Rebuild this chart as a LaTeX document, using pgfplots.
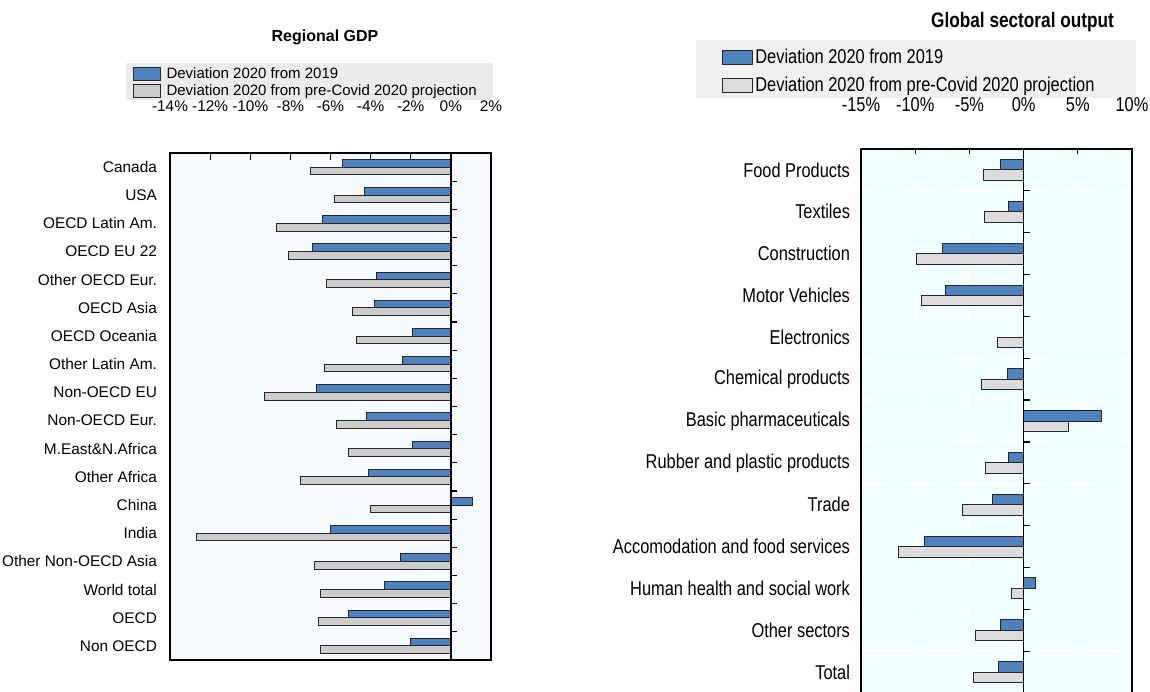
\documentclass[border=0pt]{standalone}
\usepackage{fontspec}
\setmainfont{Liberation Sans}
\newfontfamily\narrowfont{Liberation Sans}[FakeStretch=0.82]
\usepackage{pgfplots}
\usepackage{pgfplotstable}
\pgfplotsset{compat=1.18}
\definecolor{barblue}{HTML}{4F81BD}
\definecolor{lgray}{HTML}{CCCCCC}
\definecolor{rgray}{HTML}{DCDCDC}
\definecolor{leftbg}{HTML}{F5FBFE}
\definecolor{rightbg}{HTML}{F0FFFF}
\definecolor{leggrayL}{HTML}{EBEBEB}
\definecolor{leggrayR}{HTML}{F0F0F0}

\pgfplotstableread{
y a b
0 -5.4 -7.0
1 -4.3 -5.8
2 -6.4 -8.7
3 -6.9 -8.1
4 -3.7 -6.2
5 -3.8 -4.9
6 -1.9 -4.7
7 -2.4 -6.3
8 -6.7 -9.3
9 -4.2 -5.7
10 -1.9 -5.1
11 -4.1 -7.5
12 1.1 -4.0
13 -6.0 -12.7
14 -2.5 -6.8
15 -3.3 -6.5
16 -5.1 -6.6
17 -2.0 -6.5
}\regtable

\pgfplotstableread{
y a b
0 -2.1 -3.7
1 -1.4 -3.6
2 -7.5 -9.9
3 -7.2 -9.4
4 0.0 -2.4
5 -1.5 -3.9
6 7.2 4.1
7 -1.4 -3.5
8 -2.9 -5.6
9 -9.1 -11.5
10 1.1 -1.1
11 -2.1 -4.4
12 -2.3 -4.6
}\sectable

\pgfplotsset{
  legsqL/.style={legend image code/.code={\draw[##1] (0pt,-3.25pt) rectangle (13.5pt,3.25pt);}},
  legsqR/.style={legend image code/.code={\draw[##1] (0pt,-3.5pt) rectangle (15pt,3.5pt);}},
}

\begin{document}
\begin{tikzpicture}
\path[use as bounding box] (0,0) rectangle (575pt,345.5pt);
\fill[leggrayL] (63pt,295.5pt) rectangle (246.5pt,314pt);
\fill[leggrayR] (348pt,296.5pt) rectangle (568pt,325.5pt);
\node[font=\fontsize{8}{9.6}\selectfont\bfseries] at (162.5pt,327pt) {Regional GDP};
\node[font=\narrowfont\fontsize{10.5}{12}\selectfont\bfseries] at (511.25pt,334.5pt) {Global sectoral output};

\begin{axis}[
  at={(85pt,15.5pt)}, anchor=south west, scale only axis,
  width=160.5pt, height=253.5pt,
  xmin=-14, xmax=2, ymin=-0.5, ymax=17.5, y dir=reverse,
  xbar, bar width=0.27,
  axis background/.style={fill=leftbg},
  axis line style={black, line width=0.8pt},
  xtick={-14,-12,...,2},
  xticklabels={-14\%,-12\%,-10\%,-8\%,-6\%,-4\%,-2\%,0\%,2\%},
  xtick pos=upper, xticklabel pos=upper, tick align=inside,
  major tick length=3.5pt,
  xtick style={black, line width=0.6pt},
  ytick={0,...,17},
  yticklabels={Canada,USA,OECD Latin Am.,OECD EU 22,Other OECD Eur.,OECD Asia,OECD Oceania,Other Latin Am.,Non-OECD EU,Non-OECD Eur.,M.East\&N.Africa,Other Africa,China,India,Other Non-OECD Asia,World total,OECD,Non OECD},
  ytick style={draw=none},
  tick label style={font=\fontsize{7.7}{9}\selectfont},
  xticklabel style={yshift=17pt},
  yticklabel style={xshift=-3pt},
  legend style={at={(axis description cs:-0.118,1.170)}, anchor=north west,
    draw=none, fill=none, inner sep=0pt, row sep=1.5pt,
    font=\fontsize{7.5}{8}\selectfont,
    nodes={inner ysep=0pt, inner xsep=3pt, text height=5.5pt, text depth=1.5pt}},
  legend cell align=left,
]
\addplot[fill=barblue, draw=black!85, line width=0.5pt, bar shift=-0.135, legsqL] table[x=a,y=y]{\regtable};
\addplot[fill=lgray, draw=black!85, line width=0.5pt, bar shift=0.135, legsqL] table[x=b,y=y]{\regtable};
\legend{Deviation 2020 from 2019, Deviation 2020 from pre-Covid 2020 projection}
\draw[black, line width=0.8pt] (axis cs:0,-0.5) -- (axis cs:0,17.5);
\pgfplotsinvokeforeach{0.5,1.5,...,16.5}{\draw[black,line width=0.6pt] (axis cs:0,#1) -- ([xshift=3pt]axis cs:0,#1);}
\end{axis}

\begin{axis}[
  at={(430.5pt,-1pt)}, anchor=south west, scale only axis,
  width=135.5pt, height=272pt,
  xmin=-15, xmax=10, ymin=-0.5, ymax=12.5, y dir=reverse,
  xbar, bar width=0.25,
  axis background/.style={fill=rightbg},
  axis line style={black, line width=0.9pt},
  xtick={-15,-10,...,10},
  xticklabels={-15\%,-10\%,-5\%,0\%,5\%,10\%},
  xtick pos=upper, xticklabel pos=upper, tick align=inside,
  major tick length=2.5pt,
  xtick style={black, line width=0.6pt},
  xmajorgrids, major grid style={white, line width=1pt},
  ytick={0,...,12},
  yticklabels={Food Products,Textiles,Construction,Motor Vehicles,Electronics,Chemical products,Basic pharmaceuticals,Rubber and plastic products,Trade,Accomodation and food services,Human health and social work,Other sectors,Total},
  ytick style={draw=none},
  minor ytick={0.5,1.5,...,11.5}, yminorgrids, minor grid style={white, line width=0.8pt},
  minor tick length=0pt,
  tick label style={font=\narrowfont\fontsize{10}{12}\selectfont},
  xticklabel style={yshift=15pt},
  yticklabel style={xshift=-2pt},
  legend style={at={(axis description cs:-0.513,1.1857)}, anchor=north west,
    draw=none, fill=none, inner sep=0pt, row sep=4.5pt,
    font=\narrowfont\fontsize{10}{12}\selectfont,
    nodes={inner ysep=0pt, inner xsep=1pt, text height=7.5pt, text depth=2pt}},
  legend cell align=left,
]
\addplot[fill=barblue, draw=black!85, line width=0.5pt, bar shift=-0.125, legsqR] table[x=a,y=y]{\sectable};
\addplot[fill=rgray, draw=black!85, line width=0.5pt, bar shift=0.125, legsqR] table[x=b,y=y]{\sectable};
\legend{Deviation 2020 from 2019, Deviation 2020 from pre-Covid 2020 projection}
\draw[black, line width=0.8pt] (axis cs:0,-0.5) -- (axis cs:0,12.5);
\pgfplotsinvokeforeach{0.5,1.5,...,11.5}{\draw[black,line width=0.6pt] (axis cs:0,#1) -- ([xshift=3pt]axis cs:0,#1);}
\end{axis}
\end{tikzpicture}
\end{document}
